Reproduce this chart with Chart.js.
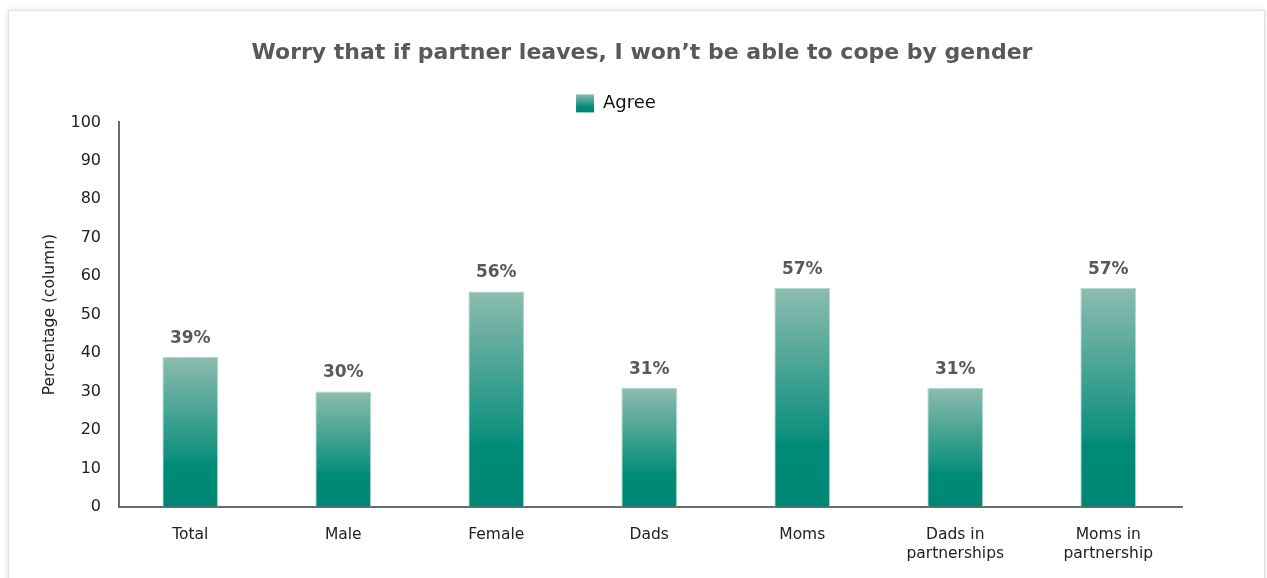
<!DOCTYPE html>
<html>
<head>
<meta charset="utf-8">
<script src="https://cdn.jsdelivr.net/npm/chart.js@4/dist/chart.umd.min.js"></script>
<style>
  html, body { margin: 0; padding: 0; background: #fff; overflow: hidden; }
  .card {
    position: absolute; left: 8px; top: 10px; width: 1255px; height: 620px;
    background: #fff; border: 1px solid #e2e2e2;
    box-shadow: 0 0 6px rgba(0, 0, 0, 0.12);
  }
  #chart { position: absolute; left: 0; top: 0; }
</style>
</head>
<body>
<div class="card"></div>
<canvas id="chart" width="1267" height="578"></canvas>
<script>
const categories = [
  "Total",
  "Male",
  "Female",
  "Dads",
  "Moms",
  ["Dads in", "partnerships"],
  ["Moms in", "partnership"],
];
const agree = [39, 30, 56, 31, 57, 31, 57];
const yTicks = [0, 10, 20, 30, 40, 50, 60, 70, 80, 90, 100];

const FONT = "'DejaVu Sans', sans-serif";
const TEAL_TOP = "#8dbcaf";
const TEAL_MID = "#0b8f7c";
const TEAL_BOTTOM = "#008675";

// bars sit on a numeric index axis so the outer gaps can be uneven
const points = agree.map((v, i) => ({ x: i, y: v }));

function tealGradient(ctx, top, bottom) {
  const g = ctx.createLinearGradient(0, top, 0, bottom);
  g.addColorStop(0, TEAL_TOP);
  g.addColorStop(0.69, TEAL_MID);
  g.addColorStop(0.71, "#008b78");
  g.addColorStop(1, TEAL_BOTTOM);
  return g;
}

// each bar gets its own light-to-dark fade
function barFill(context) {
  const chart = context.chart;
  const y = chart.scales.y;
  if (!y || !chart.chartArea || context.type !== "data") return TEAL_MID;
  const top = y.getPixelForValue(context.parsed.y);
  const bottom = y.getPixelForValue(0);
  return tealGradient(chart.ctx, top, bottom);
}

// percentage labels above the bars
const valueLabels = {
  id: "valueLabels",
  afterDatasetsDraw(chart) {
    const ctx = chart.ctx;
    const meta = chart.getDatasetMeta(0);
    ctx.save();
    ctx.font = "bold 17px " + FONT;
    ctx.fillStyle = "#595959";
    ctx.textAlign = "center";
    ctx.textBaseline = "bottom";
    meta.data.forEach((bar, i) => {
      ctx.fillText(agree[i] + "%", bar.x, bar.y - 10);
    });
    ctx.restore();
  },
};

// legend sits a little left of the title's centre
const LEGEND_SHIFT = -26;
const legendNudge = {
  id: "legendNudge",
  afterLayout(chart) {
    if (!chart.legend) return;
    chart.legend.left += LEGEND_SHIFT;
    chart.legend.right += LEGEND_SHIFT;
  },
};

// repaint the legend swatch with the same fade as the bars
const legendSwatch = {
  id: "legendSwatch",
  afterDraw(chart) {
    const box = chart.legend && chart.legend.legendHitBoxes && chart.legend.legendHitBoxes[0];
    if (!box) return;
    const ctx = chart.ctx;
    const size = 18;
    const top = box.top + (box.height - size) / 2;
    ctx.save();
    ctx.fillStyle = "#fff";
    ctx.fillRect(box.left - 1, top - 1, size + 2, size + 2);
    const g = ctx.createLinearGradient(0, top, 0, top + size);
    g.addColorStop(0, TEAL_TOP);
    g.addColorStop(0.7, "#008b78");
    g.addColorStop(1, TEAL_BOTTOM);
    ctx.fillStyle = g;
    ctx.fillRect(box.left, top, size, size);
    ctx.restore();
  },
};

new Chart(document.getElementById("chart"), {
  type: "bar",
  data: {
    datasets: [
      {
        label: "Agree",
        data: points,
        backgroundColor: barFill,
        borderColor: "rgba(170, 215, 203, 0.9)",
        borderWidth: { left: 1, right: 1, top: 1, bottom: 0 },
        borderSkipped: "bottom",
        barPercentage: 0.365,
        categoryPercentage: 1,
      },
    ],
  },
  options: {
    responsive: false,
    animation: false,
    layout: { padding: { top: 0, left: 24, right: 7, bottom: 4 } },
    plugins: {
      title: {
        display: true,
        text: "Worry that if partner leaves, I won\u2019t be able to cope by gender",
        color: "#595959",
        font: { family: FONT, size: 22, weight: "bold" },
        padding: { top: 40, bottom: 19 },
      },
      legend: {
        display: true,
        position: "top",
        labels: {
          color: "#111",
          boxWidth: 18,
          boxHeight: 18,
          padding: 9,
          font: { family: FONT, size: 18 },
        },
      },
      tooltip: { enabled: false },
    },
    scales: {
      x: {
        type: "linear",
        offset: false,
        min: -0.466,
        max: 6.482,
        afterBuildTicks(scale) {
          scale.ticks = categories.map((c, i) => ({ value: i }));
        },
        grid: { display: false },
        border: { display: true, color: "#6b6b6b", width: 2 },
        ticks: {
          color: "#222",
          padding: 11,
          maxRotation: 0,
          autoSkip: false,
          font: { family: FONT, size: 15.5 },
          callback: (value) => categories[value],
        },
      },
      y: {
        min: 0,
        max: 100,
        afterBuildTicks(scale) {
          scale.ticks = yTicks.map((v) => ({ value: v }));
        },
        afterFit(scale) {
          scale.width = 95;
        },
        grid: { display: false },
        border: { display: true, color: "#6b6b6b", width: 2 },
        ticks: {
          color: "#222",
          padding: 10,
          font: { family: FONT, size: 16 },
        },
        title: {
          display: true,
          text: "Percentage (column)",
          color: "#222",
          padding: { top: 17, bottom: 0 },
          font: { family: FONT, size: 15.5 },
        },
      },
      // empty axis that keeps the right margin
      yRight: {
        position: "right",
        display: true,
        grid: { display: false },
        border: { display: false },
        ticks: { display: false },
        afterFit(scale) {
          scale.width = 78;
        },
      },
    },
  },
  plugins: [valueLabels, legendNudge, legendSwatch],
});
</script>
</body>
</html>
